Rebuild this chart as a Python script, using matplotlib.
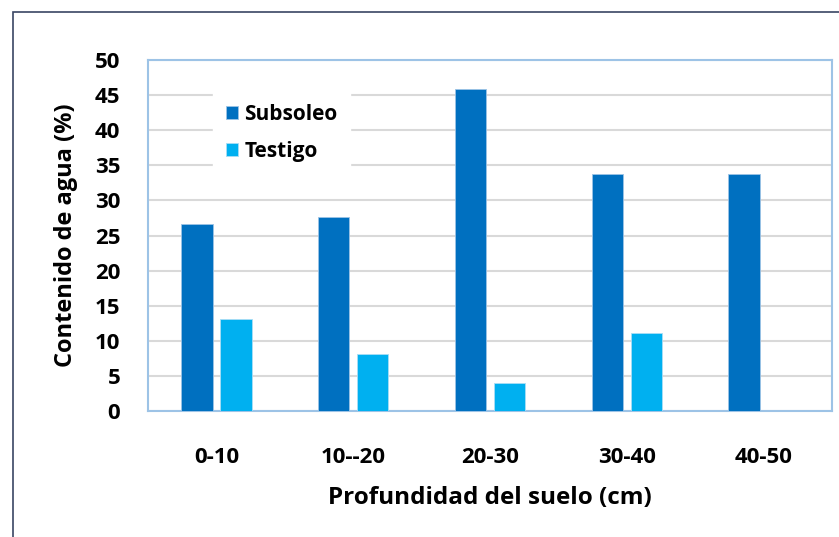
import numpy as np
import matplotlib.pyplot as plt
from matplotlib.patches import Rectangle

plt.rcParams['font.family'] = ['Open Sans', 'DejaVu Sans']

depths = ['0-10', '10--20', '20-30', '30-40', '40-50']
subsoleo = [26.6, 27.6, 45.8, 33.7, 33.7]
testigo = [13.1, 8.1, 4.0, 11.1, 0.0]

fig = plt.figure(figsize=(8.39, 5.37), dpi=100)
ax = fig.add_axes([148 / 839, 1 - 411 / 537, (832 - 148) / 839, (411 - 60) / 537])

# outer frame (clipped at right and bottom like the screenshot)
fig.patches.append(Rectangle((13 / 839, -0.1), 1.2, 1 - 12 / 537 + 0.1,
                             transform=fig.transFigure, fill=False,
                             edgecolor='#3a4663', linewidth=1.2))

x = np.arange(len(depths))
w = 0.23
ax.bar(x - 0.143, subsoleo, w, color='#0070C0', edgecolor='#9cc3e6', linewidth=0.6,
       label='Subsoleo', zorder=3)
ax.bar(x + 0.143, testigo, w, color='#00B0F0', edgecolor='#a9ddf5', linewidth=0.6,
       label='Testigo', zorder=3)

ax.set_xlim(-0.5, len(depths) - 0.5)
ax.set_ylim(0, 50)
ax.set_yticks(range(0, 51, 5))
ax.set_xticks(x)
ax.set_xticklabels(depths)
ax.yaxis.grid(True, color='#d9d9d9', linewidth=1.5, zorder=0)
ax.set_axisbelow(True)
ax.tick_params(length=0, labelsize=16)
ax.tick_params(axis='x', pad=26)
ax.tick_params(axis='y', pad=20)
for lab in ax.get_xticklabels() + ax.get_yticklabels():
    lab.set_fontweight('bold')
for s in ax.spines.values():
    s.set_color('#9dc3e6')
    s.set_linewidth(1.5)

ax.set_xlabel('Profundidad del suelo (cm)', fontsize=17.5, fontweight='bold', labelpad=13)
ax.set_ylabel('Contenido de agua (%)', fontsize=17, fontweight='bold', labelpad=12)

leg = ax.legend(loc='upper left', bbox_to_anchor=(0.08, 0.94), frameon=True,
                fancybox=False, edgecolor='white', framealpha=1,
                prop={'weight': 'bold', 'size': 15}, handlelength=0.6,
                handleheight=0.6, handletextpad=0.3, labelspacing=0.75,
                borderpad=0.6)

fig.savefig('out.png', dpi=100)
